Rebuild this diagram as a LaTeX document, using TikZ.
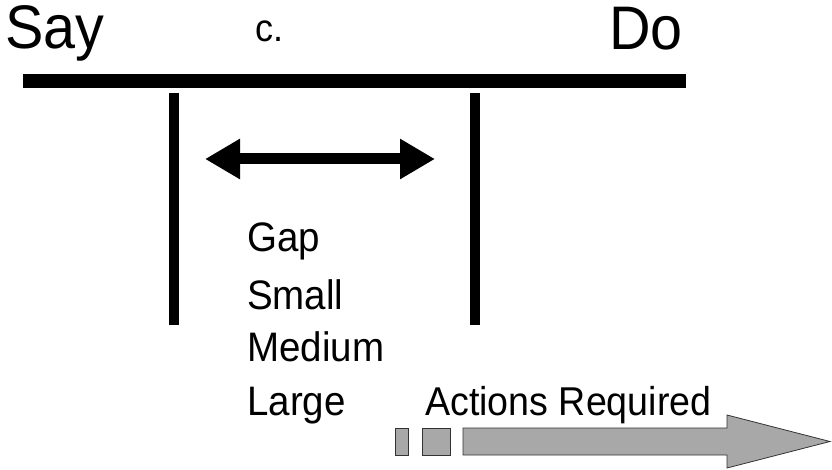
\documentclass[tikz,border=0pt]{standalone}
\usepackage{fontspec}
\setmainfont{Liberation Sans}
\usetikzlibrary{arrows.meta}
\newcommand{\tallt}[1]{\scalebox{1}[1.07]{#1}}
\begin{document}
\begin{tikzpicture}[x=1pt,y=-1pt,
  big/.style={font=\fontsize{57.5}{57.5}\selectfont, inner sep=0pt, anchor=base west},
  mid/.style={font=\fontsize{38.5}{38.5}\selectfont, inner sep=0pt, anchor=base west},
  small/.style={font=\fontsize{36}{36}\selectfont, inner sep=0pt, anchor=base west},
  bar/.style={line width=14pt},
  post/.style={line width=10pt},
  gapline/.style={line width=11pt, {Triangle[length=35pt 0 0,width=38pt 0 0]}-{Triangle[length=35pt 0 0,width=38pt 0 0]}},
  block/.style={fill=black!34, draw=black!80, line width=0.8pt}]
\useasboundingbox (0,0) rectangle (832,470);
% labels
\node[big] (say) at (5,49) {\tallt{Say}};
\node[big] (do) at (609,50) {\tallt{Do}};
\node[small] (c) at (255,42) {\tallt{c.}};
% main bar and posts
\coordinate (barL) at (23,81.5);
\coordinate (barR) at (686,81.5);
\draw[bar] (barL) -- (barR);
\coordinate (p1t) at (174,93);
\coordinate (p1b) at (174,325);
\coordinate (p2t) at (475,93);
\coordinate (p2b) at (475,325);
\draw[post] (p1t) -- (p1b);
\draw[post] (p2t) -- (p2b);
% double arrow
\coordinate (gL) at (205,159);
\coordinate (gR) at (435,159);
\draw[gapline] (gL) -- (gR);
% list
\node[mid] (gap) at (247,252) {\tallt{Gap}};
\node[mid] (sm) at (247,309) {\tallt{Small}};
\node[mid] (md) at (247,361) {\tallt{Medium}};
\node[mid] (lg) at (247,415) {\tallt{Large}};
\node[mid, font=\fontsize{37.6}{37.6}\selectfont] (act) at (425,415) {\tallt{Actions Required}};
% gray blocks and arrow
\draw[block] (395,428) rectangle (408,455);
\draw[block] (422,428) rectangle (450,455);
\draw[block] (463,428) -- (727,428) -- (727,415) -- (830,441.5) -- (727,468) -- (727,455) -- (463,455) -- cycle;
\end{tikzpicture}
\end{document}
